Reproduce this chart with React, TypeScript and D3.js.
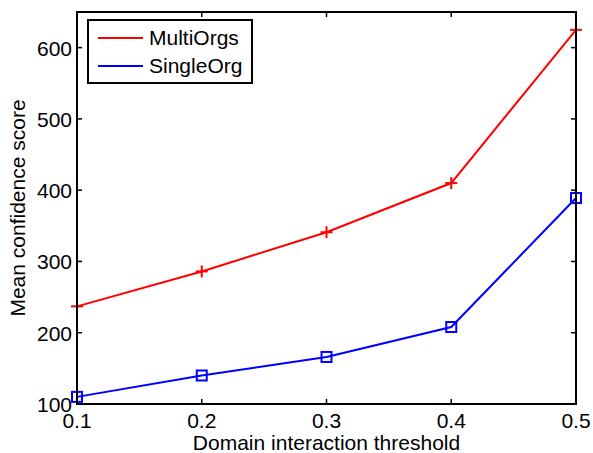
import React from "react";
import * as d3 from "d3";

const thresholds = [0.1, 0.2, 0.3, 0.4, 0.5];
const multiOrgs = [237, 286, 341, 410, 625];
const singleOrg = [110, 140, 166, 208, 389];
const xTicks = [0.1, 0.2, 0.3, 0.4, 0.5];
const yTicks = [100, 200, 300, 400, 500, 600];
const seriesNames = ["MultiOrgs", "SingleOrg"];
const seriesColors = ["#ff0000", "#0000ff"];

const W = 593, H = 453;
const L = 77, R = 576, T = 12, B = 404;

export default function App() {
  const x = d3.scaleLinear().domain([0.1, 0.5]).range([L, R]);
  const y = d3.scaleLinear().domain([100, 650]).range([B, T]);
  const line = d3.line<number>().x((_, i) => x(thresholds[i])).y((d) => y(d));
  const font = "Liberation Sans, Arial, sans-serif";
  const fs = 21;
  const tl = 5;
  const sw = 2;
  return (
    <svg width={W} height={H} style={{ position: "absolute", left: 0, top: 0 }} fontFamily={font}>
      <rect x={0} y={0} width={W} height={H} fill="#fff" />
      {/* series */}
      <path d={line(multiOrgs) || ""} fill="none" stroke={seriesColors[0]} strokeWidth={sw} />
      <path d={line(singleOrg) || ""} fill="none" stroke={seriesColors[1]} strokeWidth={sw} />
      {multiOrgs.map((v, i) => (
        <g key={"m" + i} stroke={seriesColors[0]} strokeWidth={sw}>
          <line x1={x(thresholds[i]) - 6} x2={x(thresholds[i]) + 6} y1={y(v)} y2={y(v)} />
          <line x1={x(thresholds[i])} x2={x(thresholds[i])} y1={y(v) - 6} y2={y(v) + 6} />
        </g>
      ))}
      {singleOrg.map((v, i) => (
        <rect key={"s" + i} x={x(thresholds[i]) - 5} y={y(v) - 5} width={10} height={10}
          fill="none" stroke={seriesColors[1]} strokeWidth={sw} />
      ))}
      {/* axes box */}
      <rect x={L} y={T} width={R - L} height={B - T} fill="none" stroke="#000" strokeWidth={2} />
      {xTicks.map((t) => (
        <g key={"x" + t}>
          <line x1={x(t)} x2={x(t)} y1={B} y2={B - tl} stroke="#000" strokeWidth={1.5} />
          <line x1={x(t)} x2={x(t)} y1={T} y2={T + tl} stroke="#000" strokeWidth={1.5} />
          <text x={x(t)} y={428} textAnchor="middle" fontSize={fs}>{t.toFixed(1)}</text>
        </g>
      ))}
      {yTicks.map((t) => (
        <g key={"y" + t}>
          <line x1={L} x2={L + tl} y1={y(t)} y2={y(t)} stroke="#000" strokeWidth={1.5} />
          <line x1={R} x2={R - tl} y1={y(t)} y2={y(t)} stroke="#000" strokeWidth={1.5} />
          <text x={72} y={y(t) + 8} textAnchor="end" fontSize={fs}>{t}</text>
        </g>
      ))}
      <text x={(L + R) / 2} y={450} textAnchor="middle" fontSize={fs}>Domain interaction threshold</text>
      <text transform={`translate(25,${(T + B) / 2}) rotate(-90)`} textAnchor="middle" fontSize={fs}>Mean confidence score</text>
      {/* legend */}
      <rect x={88} y={20} width={164} height={63} fill="#fff" stroke="#000" strokeWidth={2} />
      {seriesNames.map((n, i) => (
        <g key={n}>
          <line x1={98} x2={143} y1={38 + i * 28} y2={38 + i * 28} stroke={seriesColors[i]} strokeWidth={sw} />
          <text x={149} y={45 + i * 28} fontSize={fs}>{n}</text>
        </g>
      ))}
    </svg>
  );
}
